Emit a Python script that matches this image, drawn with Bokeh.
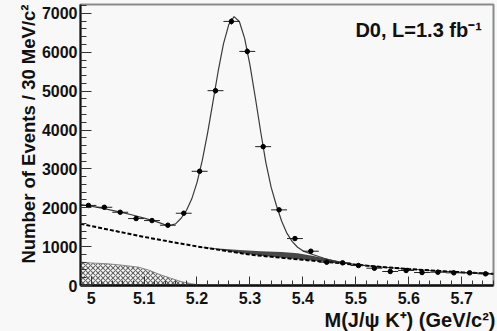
import numpy as np
from bokeh.plotting import figure
from bokeh.models import Range1d, FixedTicker, Label, Title
from bokeh.embed import file_html
from bokeh.resources import INLINE

# ---------------- data ----------------
mass = [4.995, 5.025, 5.055, 5.085, 5.115, 5.145, 5.175, 5.205, 5.235, 5.265,
        5.295, 5.325, 5.355, 5.385, 5.415, 5.445, 5.475, 5.505, 5.535, 5.565,
        5.595, 5.625, 5.655, 5.685, 5.715, 5.745]
counts = [2060, 2013, 1884, 1722, 1671, 1551, 1859, 2938, 5013, 6795,
          6023, 3573, 1946, 1208, 882, 600, 583, 514, 445, 360,
          386, 334, 342, 326, 326, 300]
count_err = [45, 45, 43, 41, 41, 39, 43, 54, 71, 82,
             78, 60, 44, 35, 30, 24, 24, 23, 21, 19,
             20, 18, 18, 18, 18, 17]
bin_half = 0.015

fit_x = [4.98, 5.00, 5.02, 5.04, 5.06, 5.08, 5.10, 5.12,
         5.13, 5.14, 5.15, 5.16, 5.17, 5.18, 5.19, 5.20, 5.21, 5.22,
         5.23, 5.24, 5.25, 5.26, 5.27, 5.28, 5.29, 5.30, 5.31, 5.32,
         5.33, 5.34, 5.35, 5.36, 5.37, 5.38, 5.39, 5.40, 5.41, 5.42,
         5.43, 5.44, 5.45, 5.47, 5.50, 5.55, 5.60, 5.65, 5.70, 5.76]
fit_y = [2080, 2040, 1990, 1935, 1875, 1808, 1735, 1655,
         1610, 1560, 1547, 1590, 1731, 1929, 2223, 2647, 3218, 3920,
         4713, 5513, 6219, 6713, 6918, 6793, 6359, 5676, 4850, 3981,
         3169, 2531, 2059, 1652, 1340, 1128, 985, 892, 837, 792,
         745, 700, 660, 600, 535, 475, 425, 380, 340, 300]

bkg_x = [4.98, 5.00, 5.05, 5.10, 5.15, 5.20, 5.25, 5.30, 5.35, 5.40,
         5.45, 5.50, 5.55, 5.60, 5.65, 5.70, 5.76]
bkg_y = [1590, 1530, 1390, 1250, 1125, 1005, 900, 795, 725, 660,
         600, 535, 475, 425, 380, 340, 300]

band_x = [5.20, 5.24, 5.28, 5.32, 5.36, 5.39, 5.42, 5.45, 5.48, 5.50]
band_lo = [1005, 921, 837, 767, 712, 673, 636, 600, 561, 535]
band_hi = [1005, 955, 912, 882, 860, 830, 762, 675, 588, 535]

part_x = [4.98, 5.00, 5.03, 5.06, 5.09, 5.11, 5.13, 5.15, 5.17, 5.19, 5.21]
part_y = [600, 580, 560, 520, 470, 390, 280, 190, 100, 45, 0]

x_ticks = [5.0, 5.1, 5.2, 5.3, 5.4, 5.5, 5.6, 5.7]
x_tick_labels = ["5", "5.1", "5.2", "5.3", "5.4", "5.5", "5.6", "5.7"]
y_ticks = [0, 1000, 2000, 3000, 4000, 5000, 6000, 7000]
y_tick_labels = ["0", "1000", "2000", "3000", "4000", "5000", "6000", "7000"]

x_title = "M(J/ψ K⁺) (GeV/c²)"
y_title = "Number of Events / 30 MeV/c²"
note = "D0, L=1.3 fb⁻¹"

# ---------------- figure ----------------
BG = "#f8f8f8"
FONT = "Liberation Sans"
X0, X1 = 4.98, 5.76
Y0, Y1 = 0, 7230

p = figure(width=497, height=331,
           x_range=Range1d(X0, X1), y_range=Range1d(Y0, Y1),
           output_backend="svg", toolbar_location=None,
           min_border_left=80, min_border_right=4, min_border_top=4,
           min_border_bottom=46)
p.background_fill_color = BG
p.border_fill_color = BG
p.outline_line_color = "#8a8a8a"
p.outline_line_width = 2
p.xgrid.visible = False
p.ygrid.visible = False

# hatched partially reconstructed component
p.varea(x=part_x, y1=0, y2=part_y, fill_alpha=0,
        hatch_pattern="diagonal_cross", hatch_color="#666666",
        hatch_scale=5, hatch_weight=1.1)
p.line(part_x, part_y, line_color="#888888", line_width=1)

# dark band (J/psi pi contribution)
p.varea(x=band_x, y1=band_lo, y2=band_hi, fill_color="#333333", fill_alpha=0.9)

# total fit
p.line(fit_x, fit_y, line_color="#3a3a3a", line_width=1.2)

# combinatorial background
p.line(bkg_x, bkg_y, line_color="black", line_width=2, line_dash="4 2")

# data points with error bars
mx = np.array(mass)
cy = np.array(counts)
ce = np.array(count_err)
p.segment(x0=mx - bin_half, y0=cy, x1=mx + bin_half, y1=cy,
          line_color="#222222", line_width=1)
p.segment(x0=mx, y0=cy - ce, x1=mx, y1=cy + ce,
          line_color="#222222", line_width=1)
p.scatter(mx, cy, size=4.5, color="black")

# axes
x_minor = [round(4.98 + 0.02 * i, 2) for i in range(40)]
y_minor = [200 * i for i in range(37)]
p.xaxis.ticker = FixedTicker(ticks=x_ticks, minor_ticks=x_minor)
p.yaxis.ticker = FixedTicker(ticks=y_ticks, minor_ticks=y_minor)
p.xaxis.major_label_overrides = dict(zip(x_ticks, x_tick_labels))
p.yaxis.major_label_overrides = dict(zip(y_ticks, y_tick_labels))

for ax in (p.xaxis[0], p.yaxis[0]):
    ax.axis_line_color = "#111111"
    ax.major_tick_line_color = "#333333"
    ax.minor_tick_line_color = "#333333"
    ax.major_tick_out = 0
    ax.minor_tick_out = 0
    ax.major_label_text_font = FONT
    ax.major_label_text_font_style = "bold"
    ax.major_label_text_font_size = "16px"
    ax.major_label_text_color = "#111111"

p.xaxis.axis_line_width = 2.5
p.yaxis.axis_line_width = 2
p.xaxis.major_tick_in = 9
p.xaxis.minor_tick_in = 5
p.yaxis.major_tick_in = 11
p.yaxis.minor_tick_in = 6
p.xaxis.major_label_standoff = 6
p.yaxis.major_label_standoff = 3

# axis titles as side-panel titles, aligned to the far ends of the axes
p.add_layout(Title(text=x_title, align="right", standoff=0, offset=-2,
                   text_font=FONT, text_font_style="bold",
                   text_font_size="20px", text_color="#111111"), "below")
p.add_layout(Title(text=y_title, align="right", standoff=0, offset=0,
                   text_font=FONT, text_font_style="bold",
                   text_font_size="18.5px", text_color="#111111"), "left")

p.add_layout(Label(x=5.738, y=6570, text=note,
                   text_align="right", text_baseline="alphabetic",
                   text_font=FONT, text_font_style="bold",
                   text_font_size="20px", text_color="#111111"))

html = file_html(p, INLINE)
html = html.replace("<body>", '<body style="background-color:%s;">' % BG)
open("out.html", "w").write(html)
